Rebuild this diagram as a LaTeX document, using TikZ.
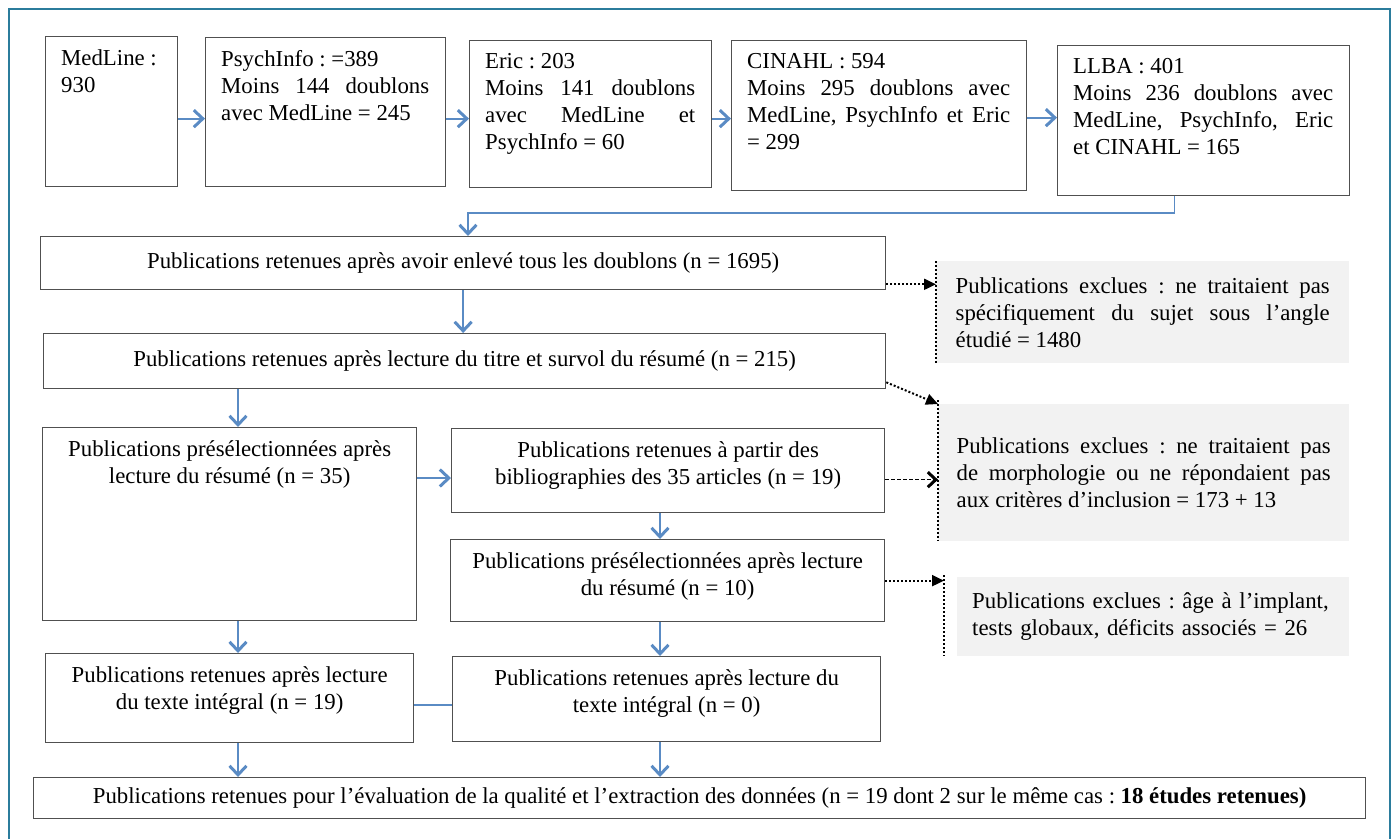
\documentclass[tikz,border=0pt]{standalone}
\usepackage{fontspec}
\setmainfont{Liberation Serif}
\usetikzlibrary{arrows.meta}
\definecolor{flowblue}{HTML}{5A8BC4}
\definecolor{framecol}{HTML}{2B7C9C}
\definecolor{boxline}{HTML}{505050}
\definecolor{exclfill}{HTML}{F2F2F2}
\tolerance=10000
\hbadness=10000
\frenchspacing

\tikzset{
  box/.style={draw=boxline, line width=1.3pt, anchor=north west, inner sep=0pt},
  txt/.style={anchor=north west, inner sep=0pt, align=justify},
  ctxt/.style={anchor=north, inner sep=0pt, align=center},
  excl/.style={fill=exclfill, anchor=north west, inner sep=0pt},
  flow/.style={draw=flowblue, line width=2.1pt, -{Straight Barb[length=9pt,width=17pt,line width=3pt]}},
  cut/.style={black, line width=2pt, dotted, -{Triangle[length=12pt,width=11pt]}},
}

\begin{document}
\begin{tikzpicture}[x=1pt, y=-1pt, font=\fontsize{22.8}{27}\selectfont]
\useasboundingbox (0,0) rectangle (1392,839);
% cadre
\draw[framecol, line width=1.5pt] (9,839) -- (9,9) -- (1390,9) -- (1390,839);

% bases de donnees
\node[box, minimum width=132pt, minimum height=150pt] (med) at (45,36) {};
\node[txt, text width=100pt] (med-t) at ([xshift=16pt,yshift=-13pt]med.north west) {MedLine :\\930};
\node[box, minimum width=240pt, minimum height=149pt] (psy) at (205,37) {};
\node[txt, text width=208pt] (psy-t) at ([xshift=16pt,yshift=-13pt]psy.north west)
  {PsychInfo : =389\\Moins 144 doublons\linebreak avec MedLine = 245};
\node[box, minimum width=242pt, minimum height=147pt] (eric) at (469,40) {};
\node[txt, text width=210pt] (eric-t) at ([xshift=16pt,yshift=-13pt]eric.north west)
  {Eric : 203\\Moins 141 doublons\linebreak avec MedLine et\linebreak PsychInfo = 60};
\node[box, minimum width=295pt, minimum height=150pt] (cin) at (731,40) {};
\node[txt, text width=263pt] (cin-t) at ([xshift=16pt,yshift=-13pt]cin.north west)
  {CINAHL : 594\\Moins 295 doublons avec\linebreak MedLine, PsychInfo et Eric\linebreak = 299};
\node[box, minimum width=292pt, minimum height=150pt] (llba) at (1057,45) {};
\node[txt, text width=260pt] (llba-t) at ([xshift=16pt,yshift=-13pt]llba.north west)
  {LLBA : 401\\Moins 236 doublons avec\linebreak MedLine, PsychInfo, Eric\linebreak et CINAHL = 165};

\draw[flow] ([yshift=-7pt]med.east) -- ([yshift=-6.5pt]psy.west);
\draw[flow] ([yshift=-6.5pt]psy.east) -- ([yshift=-4.5pt]eric.west);
\draw[flow] ([yshift=-4.5pt]eric.east) -- ([yshift=-3pt]cin.west);
\draw[flow] ([yshift=-2pt]cin.east) -- ([yshift=3pt]llba.west);

% selection
\node[box, minimum width=845pt, minimum height=53pt] (doub) at (40,236)
  {Publications retenues après avoir enlevé tous les doublons (n = 1695)};
\node[box, minimum width=842pt, minimum height=55pt] (titre) at (43,333)
  {Publications retenues après lecture du titre et survol du résumé (n = 215)};
\node[box, minimum width=374pt, minimum height=193pt] (pre1) at (42,427) {};
\node[ctxt] (pre1-t) at ([yshift=-13pt]pre1.north)
  {Publications présélectionnées après\\lecture du résumé (n = 35)};
\node[box, minimum width=433pt, minimum height=84pt] (bib) at (451,428) {};
\node[ctxt] (bib-t) at ([yshift=-13pt]bib.north)
  {Publications retenues à partir des\\bibliographies des 35 articles (n = 19)};
\node[box, minimum width=434pt, minimum height=82pt] (pre2) at (450,539) {};
\node[ctxt] (pre2-t) at ([yshift=-13pt]pre2.north)
  {Publications présélectionnées après lecture\\du résumé (n = 10)};
\node[box, minimum width=368pt, minimum height=89pt] (tex1) at (45,653) {};
\node[ctxt] (tex1-t) at ([yshift=-13pt]tex1.north)
  {Publications retenues après lecture\\du texte intégral (n = 19)};
\node[box, minimum width=428pt, minimum height=85pt] (tex0) at (452,656) {};
\node[ctxt] (tex0-t) at ([yshift=-13pt]tex0.north)
  {Publications retenues après lecture du\\texte intégral (n = 0)};
\node[box, minimum width=1332pt, minimum height=41pt] (fin) at (33,777)
  {Publications retenues pour l’évaluation de la qualité et l’extraction des données (n = 19 dont 2 sur le même cas : \textbf{18 études retenues)}};

% exclusions
\node[excl, minimum width=413pt, minimum height=102pt, text width=374pt, align=justify] (ex1) at (936,261)
  {Publications exclues : ne traitaient pas\linebreak spécifiquement du sujet sous l’angle\linebreak étudié = 1480};
\node[excl, minimum width=411pt, minimum height=137pt, text width=374pt, align=justify] (ex2) at (938,404)
  {Publications exclues : ne traitaient pas\linebreak de morphologie ou ne répondaient pas\linebreak aux critères d’inclusion = 173 + 13};
\node[excl, minimum width=392pt, minimum height=79pt, text width=362pt, align=left] (ex3) at (957,577)
  {Publications exclues : âge à l’implant,\\tests globaux, déficits associés = 26};
\draw[dotted, line width=2pt] (ex1.north west) -- (ex1.south west);
\draw[dotted, line width=2pt] ([yshift=4pt]ex2.north west) -- (ex2.south west);
\draw[dotted, line width=2pt] ([shift={(-13pt,2pt)}]ex3.north west) -- ([xshift=-13pt]ex3.south west);

% liaisons
\coordinate (lx) at (238,0);
\coordinate (rx) at (660,0);
\coordinate (j1) at (468,213);
\coordinate (ay) at (0,478);
\coordinate (ty) at (0,705);
\draw[flow, line width=1.3pt] ([xshift=-29pt]llba.south) |- (j1) -- (j1 |- doub.north);
\draw[flow] (doub.south) -- (doub.south |- titre.north);
\draw[flow] (lx |- titre.south) -- (lx |- pre1.north);
\draw[flow] (pre1.east |- ay) -- (bib.west |- ay);
\draw[flow] (rx |- bib.south) -- (rx |- pre2.north);
\draw[flow] (rx |- pre2.south) -- (rx |- tex0.north);
\draw[flow] (lx |- pre1.south) -- (lx |- tex1.north);
\draw[flowblue, line width=1.3pt] (tex1.east |- ty) -- (tex0.west |- ty);
\draw[flow] (lx |- tex1.south) -- (lx |- fin.north);
\draw[flow] (rx |- tex0.south) -- (rx |- fin.north);

\coordinate (e1) at ([yshift=6pt]doub.south east);
\coordinate (e3) at ([yshift=-9pt]bib.east);
\coordinate (d3) at ([xshift=-13pt]ex3.west);
\draw[cut] (e1) -- (e1 -| ex1.west);
\draw[cut] ([yshift=7pt]titre.south east) -- (ex2.north west);
\draw[black, line width=1.6pt, dash pattern=on 4pt off 2pt, -{Straight Barb[length=8pt,width=15pt,line width=3pt]}] (e3) -- (e3 -| ex2.west);
\draw[cut] (pre2.east) -- (pre2.east -| d3);
\end{tikzpicture}
\end{document}
